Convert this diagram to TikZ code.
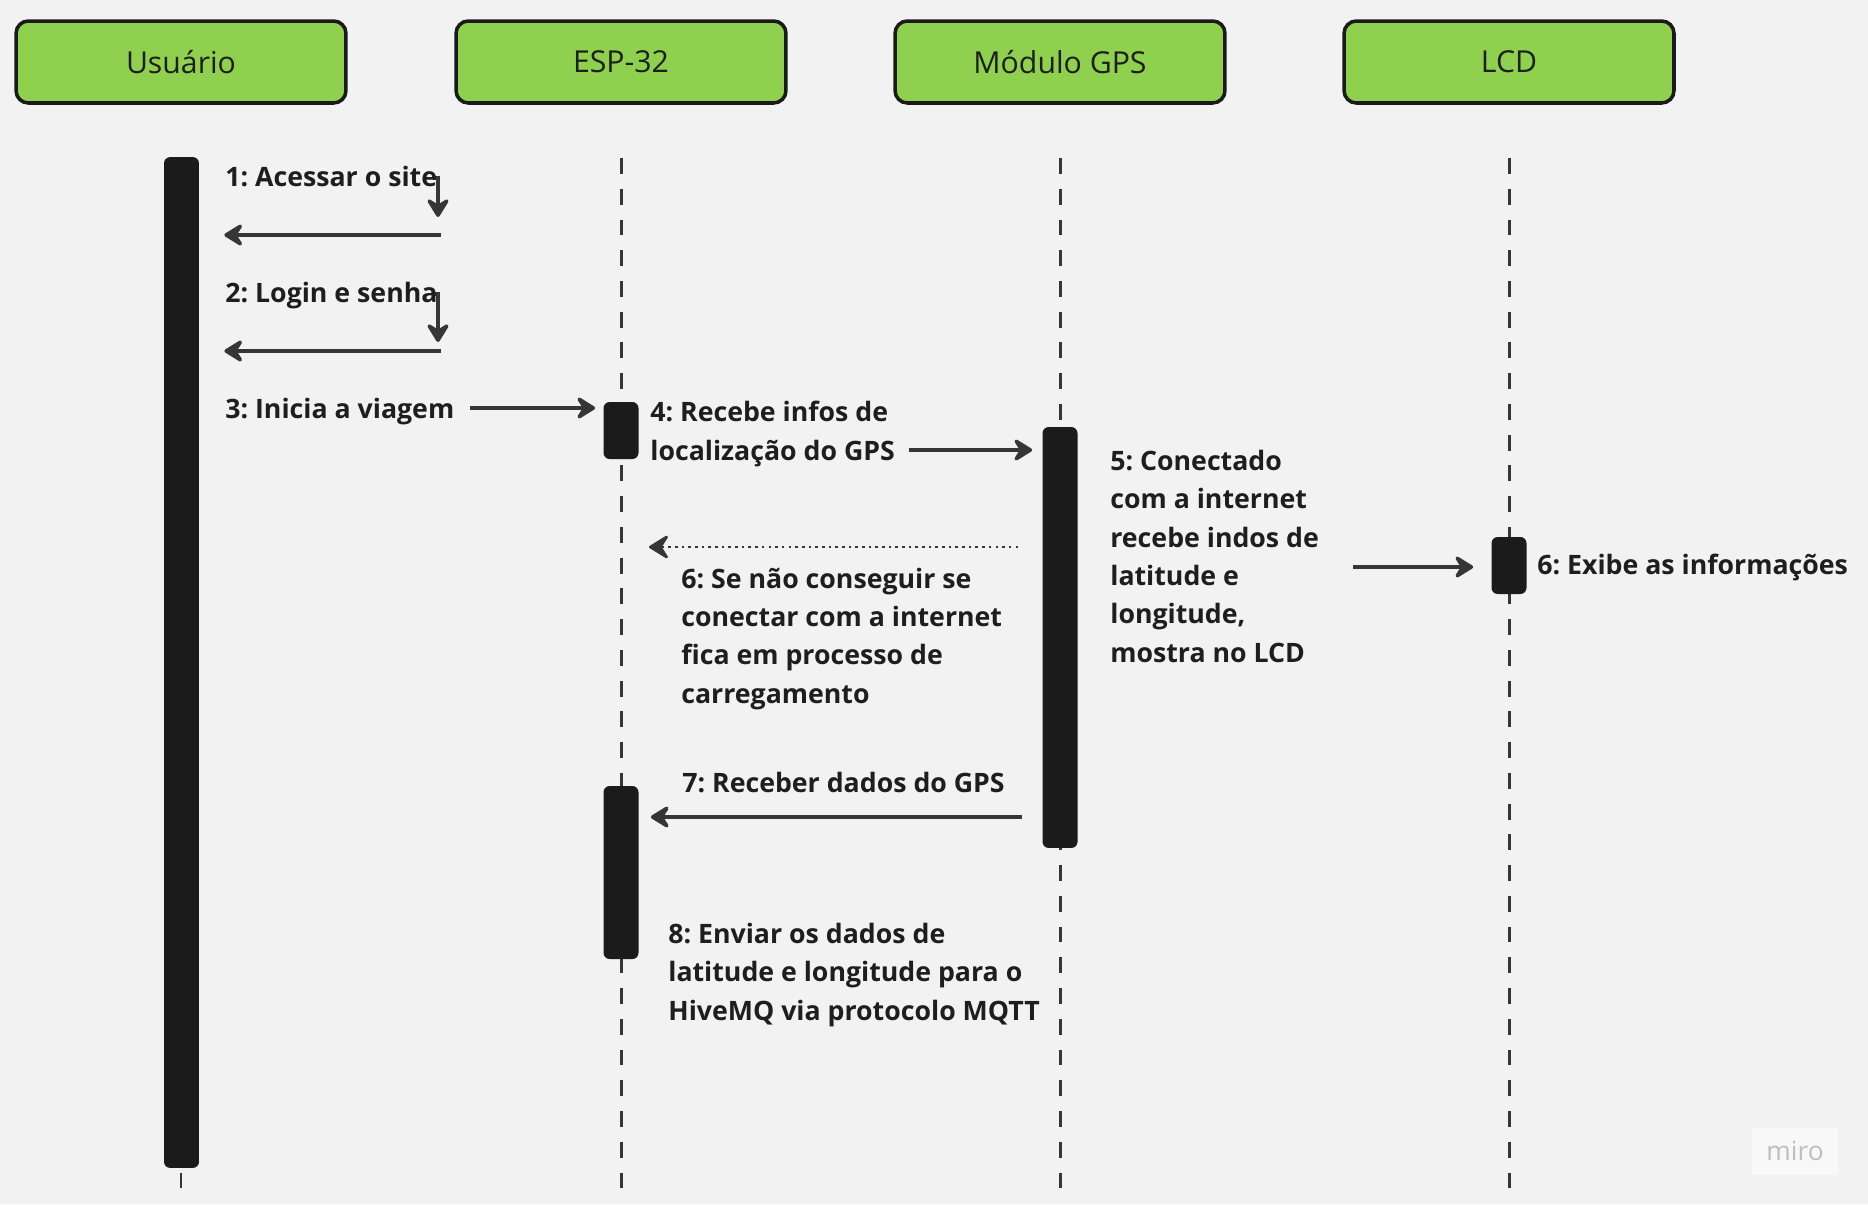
\documentclass[tikz,border=0pt]{standalone}
\usepackage{fontspec}
\setmainfont{Open Sans}
\usepackage{tikz}
\usetikzlibrary{arrows.meta,positioning,calc}
\definecolor{seqHead}{HTML}{8FD14F}
\definecolor{seqEdge}{HTML}{1A1A1A}
\definecolor{seqBar}{HTML}{1B1B1B}
\definecolor{seqLine}{HTML}{363636}
\definecolor{seqText}{HTML}{1E1E1E}
\definecolor{seqBg}{HTML}{F2F2F2}
\definecolor{seqMark}{HTML}{BDBDC6}
\frenchspacing

\begin{document}
\begin{tikzpicture}[
            x=0.02cm, y=-0.02cm,
            >=Stealth,
            head/.style={
                draw=seqEdge,
                fill=seqHead,
                line width=2pt,
                rounded corners=7pt,
                minimum width=6.6cm,
                minimum height=1.64cm,
                text=seqText,
                font=\fontsize{17.2}{20}\selectfont
            },
            actbar/.style={fill=seqBar, rounded corners=3.5pt, minimum width=0.7cm, inner sep=0pt},
            lifeline/.style={line width=1.7pt, draw=seqLine, dash pattern=on 9pt off 8.5pt},
            arrow/.style={-{Stealth[length=13pt, width=16pt, inset=5pt, round]}, line width=2pt, draw=seqLine},
            dotarrow/.style={arrow, line width=1.5pt, dash pattern=on 1.5pt off 2.3pt},
            msg/.style={anchor=base west, inner sep=0pt, align=left, text=seqText,
                        font=\bfseries\fontsize{15.2}{21.8}\selectfont}
        ]

        % page
        \fill[seqBg] (0,0) rectangle (1868,1204);
        \useasboundingbox (0,0) rectangle (1868,1204);

        %---------------- Participants ----------------%
        \node[head] (user) at (181,62) {Usuário};
        \node[head] (esp) at (621,62) {ESP-32};
        \node[head] (gps) at (1060,62) {Módulo GPS};
        \node[head] (lcd) at (1509,62) {LCD};

        %---------------- Lifelines ----------------%
        \coordinate (toprow) at (0,158);
        \coordinate (botrow) at (0,1200);
        \foreach \who in {user,esp,gps,lcd}
            \draw[lifeline] (\who |- toprow) -- (\who |- botrow);

        %---------------- Activation bars ----------------%
        \node[actbar, minimum height=20.22cm] (userbar) at (181.5,662.5) {};
        \node[actbar, minimum height=1.14cm] (espbarA) at (621,430.5) {};
        \node[actbar, minimum height=3.46cm] (espbarB) at (621,872.5) {};
        \node[actbar, minimum height=8.42cm] (gpsbar) at (1060,637.5) {};
        \node[actbar, minimum height=1.14cm] (lcdbar) at (1509,565.5) {};

        %================ Messages =================%
        \coordinate (m1) at (433,178);
        \coordinate (r1) at (441,235);
        \coordinate (m2) at (433,294);
        \coordinate (r2) at (441,351);
        \coordinate (m3) at (470,408);
        \coordinate (m4) at (909,450);
        \coordinate (m5) at (1353,567);
        \coordinate (y6) at (0,547);
        \coordinate (y7) at (0,817);

        \draw[arrow] (m1) -- ++(5,0) -- ++(0,39);
        \draw[arrow, shorten >=0.5cm] (r1) -- (r1 -| userbar.east);
        \draw[arrow] (m2) -- ++(5,0) -- ++(0,48);
        \draw[arrow, shorten >=0.5cm] (r2) -- (r2 -| userbar.east);
        \draw[arrow, shorten >=0.16cm] (m3) -- (m3 -| espbarA.west);
        \draw[arrow, shorten >=0.2cm] (m4) -- (m4 -| gpsbar.west);
        \draw[arrow, shorten >=0.36cm] (m5) -- (m5 -| lcdbar.west);
        \draw[dotarrow, shorten <=0.48cm, shorten >=0.56cm] (gpsbar.west |- y6) -- (esp |- y6);
        \draw[arrow, shorten <=0.4cm, shorten >=0.24cm] (gpsbar.west |- y7) -- (espbarB.east |- y7);

        %================ Labels (placed at their last baseline) =================%
        \node[msg] (t1) at (225,186) {1: Acessar o site};
        \node[msg] (t2) at (225,302) {2: Login e senha};
        \node[msg] (t3) at (225,418) {3: Inicia a viagem};
        \node[msg] (t4) at (650,460) {4: Recebe infos de\\localização do GPS};
        \node[msg] (t5) at (1110,662) {5: Conectado\\com a internet\\recebe indos de\\latitude e\\longitude,\\mostra no LCD};
        \node[msg] (t6) at (681,703) {6: Se não conseguir se\\conectar com a internet\\fica em processo de\\carregamento};
        \node[msg] (t6b) at (1537,574) {6: Exibe as informações};
        \node[msg] (t7) at (682,792) {7: Receber dados do GPS};
        \node[msg] (t8) at (668,1020) {8: Enviar os dados de\\latitude e longitude para o\\HiveMQ via protocolo MQTT};

        % watermark
        \node[fill=white!45!seqBg, minimum width=1.72cm, minimum height=0.94cm, text=seqMark,
              font=\fontsize{15}{18}\selectfont] (miro) at (1795,1151) {miro};

        \end{tikzpicture}
\end{document}
